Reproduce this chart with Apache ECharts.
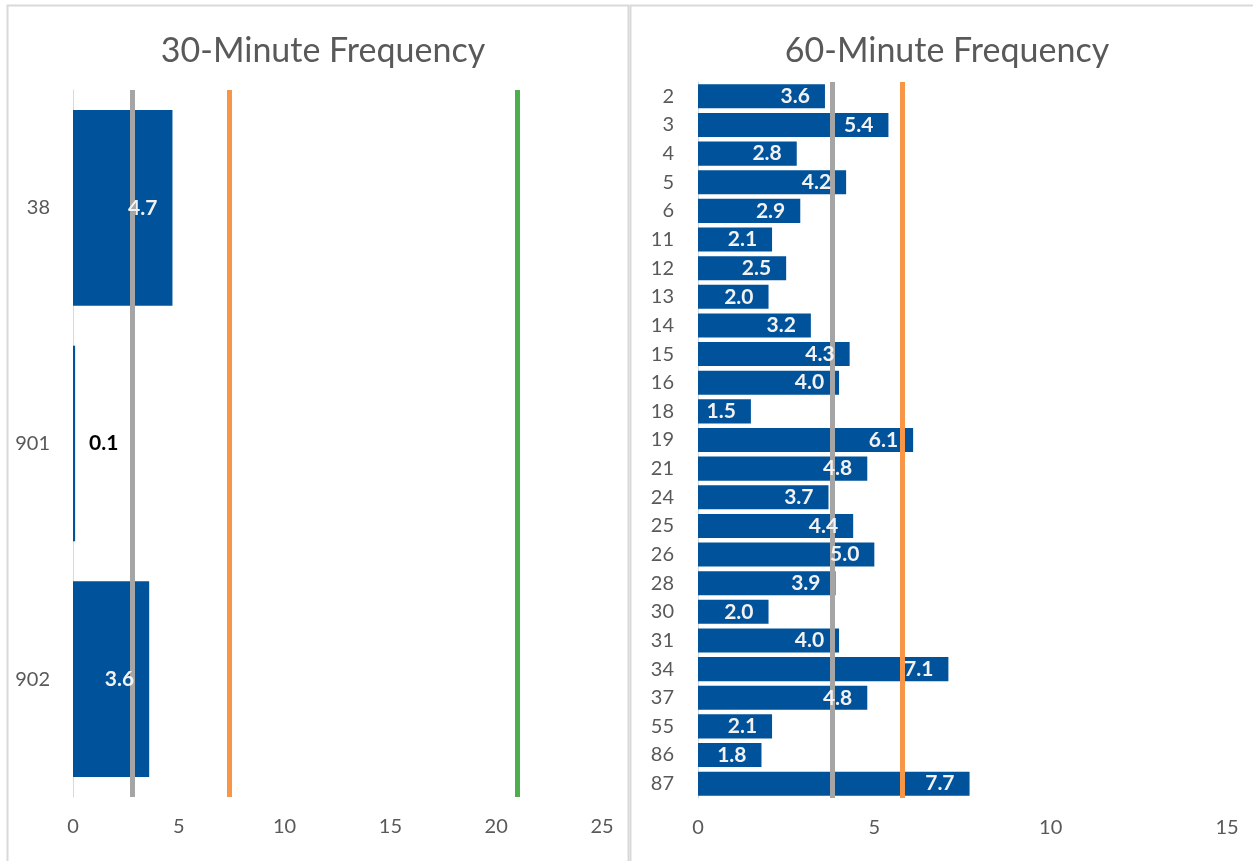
<!DOCTYPE html>
<html>
<head>
<meta charset="utf-8">
<script src="https://cdn.jsdelivr.net/npm/echarts@6/dist/echarts.min.js"></script>
<style>
  html, body { margin: 0; padding: 0; background: #ffffff; }
  #chart { width: 1253px; height: 861px; }
</style>
</head>
<body>
<div id="chart"></div>
<script>
// 30-minute routes
const routes30 = ['38', '901', '902'];
const values30 = [4.7, 0.1, 3.6];
const refLines30 = [2.8, 7.4, 21.0];

// 60-minute routes
const routes60 = ['2', '3', '4', '5', '6', '11', '12', '13', '14', '15', '16', '18', '19',
                  '21', '24', '25', '26', '28', '30', '31', '34', '37', '55', '86', '87'];
const values60 = [3.6, 5.4, 2.8, 4.2, 2.9, 2.1, 2.5, 2.0, 3.2, 4.3, 4.0, 1.5, 6.1,
                  4.8, 3.7, 4.4, 5.0, 3.9, 2.0, 4.0, 7.1, 4.8, 2.1, 1.8, 7.7];
const refLines60 = [3.8, 5.8];

const xTicks30 = { min: 0, max: 25, interval: 5 };
const xTicks60 = { min: 0, max: 15, interval: 5 };

const FONT = 'Lato, "Open Sans", sans-serif';
const BAR = '#00529b';
const LINE_COLORS = ['#a5a5a5', '#f79646', '#4cae4c'];

function valueAxis(gridIndex, ticks) {
  return {
    type: 'value', gridIndex, min: ticks.min, max: ticks.max, interval: ticks.interval,
    axisLine: { show: false }, axisTick: { show: false }, splitLine: { show: false },
    axisLabel: { color: '#595959', fontSize: 20, fontFamily: FONT, margin: 20 }
  };
}
function categoryAxis(gridIndex, cats, margin) {
  return {
    type: 'category', gridIndex, data: cats, inverse: true,
    axisLine: { show: true, lineStyle: { color: '#d9d9d9', width: 1 } },
    axisTick: { show: false },
    axisLabel: { color: '#595959', fontSize: 20, fontFamily: FONT, margin }
  };
}
function refMarks(vals) {
  return {
    z: 3, silent: true, symbol: ['none', 'none'], animation: false,
    label: { show: false },
    data: vals.map((v, i) => ({ xAxis: v, lineStyle: { color: LINE_COLORS[i], width: 5, type: 'solid' } }))
  };
}
const valueLabel = {
  show: true, position: 'insideRight', distance: 15,
  color: '#f2f2f2', fontWeight: 'bold', fontSize: 21, fontFamily: FONT,
  formatter: p => p.value.toFixed(1)
};

// bars with reference lines, then a transparent copy on top carrying the value labels
function barPair(axisIndex, values, refs, gap) {
  return [
    {
      type: 'bar', xAxisIndex: axisIndex, yAxisIndex: axisIndex, barCategoryGap: gap, z: 2,
      itemStyle: { color: BAR }, data: values, markLine: refMarks(refs)
    },
    {
      type: 'bar', xAxisIndex: axisIndex, yAxisIndex: axisIndex, barCategoryGap: gap, barGap: '-100%', z: 4,
      itemStyle: { color: 'rgba(0,0,0,0)' },
      data: values.map(v => v < 1
        ? { value: v, label: { position: 'right', distance: 14, color: '#000000' } }
        : v),
      label: valueLabel
    }
  ];
}

const chart = echarts.init(document.getElementById('chart'), null, { renderer: 'canvas' });
chart.setOption({
  animation: false,
  backgroundColor: '#ffffff',
  graphic: [
    { type: 'rect', shape: { x: 7.5, y: 5.5, width: 621, height: 860 }, style: { fill: 'none', stroke: '#d9d9d9', lineWidth: 2 }, silent: true },
    { type: 'rect', shape: { x: 630.5, y: 5.5, width: 630, height: 860 }, style: { fill: 'none', stroke: '#d9d9d9', lineWidth: 2 }, silent: true }
  ],
  title: [
    { text: '30-Minute Frequency', left: 318, top: 29, textAlign: 'center',
      textStyle: { color: '#595959', fontSize: 34, fontWeight: 'normal', fontFamily: FONT } },
    { text: '60-Minute Frequency', left: 942, top: 29, textAlign: 'center',
      textStyle: { color: '#595959', fontSize: 34, fontWeight: 'normal', fontFamily: FONT } }
  ],
  grid: [
    { left: 73, top: 90, width: 529, height: 707 },
    { left: 698, top: 82, width: 529, height: 716 }
  ],
  xAxis: [valueAxis(0, xTicks30), valueAxis(1, xTicks60)],
  yAxis: [categoryAxis(0, routes30, 23), categoryAxis(1, routes60, 24)],
  series: [
    ...barPair(0, values30, refLines30, '17%'),
    ...barPair(1, values60, refLines60, '16%')
  ]
});
</script>
</body>
</html>
